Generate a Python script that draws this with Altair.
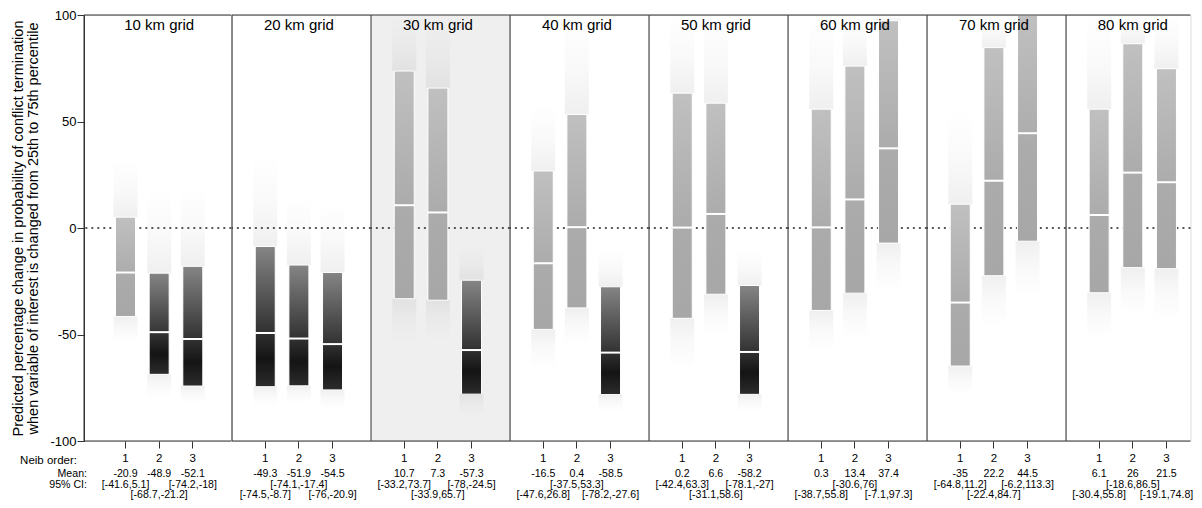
import altair as alt
import pandas as pd

# ---------------- data ----------------
grids = ["10 km grid", "20 km grid", "30 km grid", "40 km grid",
         "50 km grid", "60 km grid", "70 km grid", "80 km grid"]
orders = ["1", "2", "3"]
highlight_grid = "30 km grid"

means = [
    [-20.9, -48.9, -52.1],
    [-49.3, -51.9, -54.5],
    [10.7, 7.3, -57.3],
    [-16.5, 0.4, -58.5],
    [0.2, 6.6, -58.2],
    [0.3, 13.4, 37.4],
    [-35, 22.2, 44.5],
    [6.1, 26, 21.5],
]
ci_low = [
    [-41.6, -68.7, -74.2],
    [-74.5, -74.1, -76],
    [-33.2, -33.9, -78],
    [-47.6, -37.5, -78.2],
    [-42.4, -31.1, -78.1],
    [-38.7, -30.6, -7.1],
    [-64.8, -22.4, -6.2],
    [-30.4, -18.6, -19.1],
]
ci_high = [
    [5.1, -21.2, -18],
    [-8.7, -17.4, -20.9],
    [73.7, 65.7, -24.5],
    [26.8, 53.3, -27.6],
    [63.3, 58.6, -27],
    [55.8, 76, 97.3],
    [11.2, 84.7, 113.3],
    [55.8, 86.5, 74.8],
]
# approximate extent of the faint simulated-draw clouds around each bar
dot_top = [
    [32, 18, 20],
    [35, 15, 12],
    [100, 100, -8],
    [58, 100, -10],
    [100, 100, -10],
    [100, 100, 100],
    [55, 100, 100],
    [100, 100, 100],
]
dot_bot = [
    [-54, -80, -82],
    [-83, -82, -85],
    [-54, -53, -88],
    [-66, -55, -86],
    [-66, -50, -86],
    [-58, -52, -30],
    [-78, -46, -33],
    [-52, -41, -43],
]
row_labels = ["Neib order:", "Mean:", "95% CI:"]
y_title = ["Predicted percentage change in probability of conflict termination",
           "when variable of interest is changed from 25th to 75th percentile"]
y_ticks = [-100, -50, 0, 50, 100]

# ---------------- layout / style ----------------
H = 426
F = 0.9955  # slight horizontal compaction so the page does not overflow
panel_widths = [w * F for w in [148, 139.5, 139.5, 139.5, 139.5, 139.5, 139.5, 125]]
first_center = [c * F for c in [41.7, 33.4, 33.4, 33.4, 33.4, 33.4, 33.4, 33.3]]
STEP = 33.8 * F
BAR = 20
FONT = "Liberation Sans"
SMALL = 10.6
Y_MEAN, Y_CI1, Y_CI2 = H + 32.5, H + 43.5, H + 54


def fmt(v):
    return f"{v:g}"


rows = []
for gi, g in enumerate(grids):
    for oi, o in enumerate(orders):
        lo, hi = ci_low[gi][oi], ci_high[gi][oi]
        line = 1 if ((gi % 2 == 0) == (oi != 1)) else 2
        rows.append(dict(grid=g, order=o, mean=means[gi][oi], lo=lo, hi=hi,
                         top=dot_top[gi][oi], bot=dot_bot[gi][oi], sig=hi < 0,
                         mean_label=fmt(means[gi][oi]),
                         ci_label=f"[{fmt(lo)},{fmt(hi)}]", ci_line=line))
df = pd.DataFrame(rows)

one = pd.DataFrame({"v": [0]})

light_fill = alt.Gradient(gradient="linear", x1=0, x2=0, y1=0, y2=1, stops=[
    alt.GradientStop(color="#c0c0c0", offset=0),
    alt.GradientStop(color="#ababab", offset=0.6),
    alt.GradientStop(color="#a7a7a7", offset=1)])
dark_fill = alt.Gradient(gradient="linear", x1=0, x2=0, y1=0, y2=1, stops=[
    alt.GradientStop(color="#858585", offset=0),
    alt.GradientStop(color="#3a3a3a", offset=0.55),
    alt.GradientStop(color="#141414", offset=0.8),
    alt.GradientStop(color="#2c2c2c", offset=1)])
up_fill = alt.Gradient(gradient="linear", x1=0, x2=0, y1=1, y2=0, stops=[
    alt.GradientStop(color="rgba(150,150,150,0.15)", offset=0),
    alt.GradientStop(color="rgba(150,150,150,0.06)", offset=0.45),
    alt.GradientStop(color="rgba(150,150,150,0)", offset=1)])
down_fill = alt.Gradient(gradient="linear", x1=0, x2=0, y1=0, y2=1, stops=[
    alt.GradientStop(color="rgba(150,150,150,0.15)", offset=0),
    alt.GradientStop(color="rgba(150,150,150,0.06)", offset=0.45),
    alt.GradientStop(color="rgba(150,150,150,0)", offset=1)])


def panel(gi):
    g = grids[gi]
    w = panel_widths[gi]
    d = df[df.grid == g]
    pin = (STEP - BAR) / STEP
    pout = (w / STEP - 3 + pin) / 2
    align = (first_center[gi] - BAR / 2) / (w - STEP * (3 - pin))
    xscale = alt.Scale(domain=orders, paddingInner=pin, paddingOuter=pout, align=align)
    yscale = alt.Scale(domain=[-100, 100], clamp=True, nice=False, zero=False)
    xaxis = alt.Axis(title=None, labelAngle=0, domain=False, ticks=True, tickSize=7,
                     tickColor="#333", labelFontSize=11.5, labelPadding=4,
                     labelColor="black", grid=False)
    if gi == 0:
        yaxis = alt.Axis(title=y_title, values=y_ticks, labelExpr="datum.value + ''",
                         tickSize=7, tickColor="#333",
                         domainColor="#333", labelFontSize=13, labelColor="black",
                         labelPadding=1, titleFontSize=14.5, titleFontWeight="normal",
                         titleLineHeight=15, titleColor="black", titlePadding=9,
                         grid=False)
    else:
        yaxis = None
    X = alt.X("order:N", scale=xscale, axis=xaxis)

    def Y(f):
        return alt.Y(f, type="quantitative", scale=yscale, axis=yaxis)

    base = alt.Chart(d)
    layers = []
    if g == highlight_grid:
        layers.append(alt.Chart(one).mark_rect(color="#efefef").encode(
            x=alt.value(0), x2=alt.value(w), y=alt.value(0), y2=alt.value(H)))
    layers.append(base.mark_bar(width=24, color=up_fill).encode(x=X, y=Y("hi"), y2="top:Q"))
    layers.append(base.mark_bar(width=24, color=down_fill).encode(x=X, y=Y("bot"), y2="lo:Q"))
    layers.append(alt.Chart(one).mark_rule(color="#222", strokeDash=[2, 4], strokeWidth=1.4)
                  .encode(y=Y("v")))
    layers.append(base.transform_filter("!datum.sig").mark_bar(
        color=light_fill, stroke="white", strokeWidth=1).encode(x=X, y=Y("lo"), y2="hi:Q"))
    layers.append(base.transform_filter("datum.sig").mark_bar(
        color=dark_fill, stroke="white", strokeWidth=1).encode(x=X, y=Y("lo"), y2="hi:Q"))
    layers.append(base.mark_tick(color="white", thickness=2, size=BAR, opacity=1).encode(
        x=X, y=Y("mean")))
    # frame
    layers.append(alt.Chart(one).mark_rule(color="#333").encode(
        x=alt.value(0), y=alt.value(0), y2=alt.value(H)))
    layers.append(alt.Chart(one).mark_rule(color="#333").encode(
        x=alt.value(0), x2=alt.value(w), y=alt.value(0)))
    layers.append(alt.Chart(one).mark_rule(color="#333").encode(
        x=alt.value(0), x2=alt.value(w), y=alt.value(H)))
    # panel title
    layers.append(base.transform_filter("datum.order == '2'").mark_text(
        fontSize=15, baseline="middle", color="black").encode(
        x=X, y=alt.value(10), text="grid:N"))
    # mean and CI rows
    layers.append(base.mark_text(fontSize=SMALL, baseline="middle", color="black").encode(
        x=X, y=alt.value(Y_MEAN), text="mean_label:N"))
    layers.append(base.transform_filter("datum.ci_line == 1").mark_text(
        fontSize=SMALL, baseline="middle", color="black").encode(
        x=X, y=alt.value(Y_CI1), text="ci_label:N"))
    layers.append(base.transform_filter("datum.ci_line == 2").mark_text(
        fontSize=SMALL, baseline="middle", color="black").encode(
        x=X, y=alt.value(Y_CI2), text="ci_label:N"))
    if gi == 0:
        layers.append(alt.Chart(one).mark_text(fontSize=11.5, align="right", baseline="middle",
                                               color="black").encode(
            x=alt.value(-7), y=alt.value(H + 20), text=alt.value(row_labels[0])))
        layers.append(alt.Chart(one).mark_text(fontSize=SMALL, align="right", baseline="middle",
                                               color="black").encode(
            x=alt.value(3), y=alt.value(Y_MEAN), text=alt.value(row_labels[1])))
        layers.append(alt.Chart(one).mark_text(fontSize=SMALL, align="right", baseline="middle",
                                               color="black").encode(
            x=alt.value(3), y=alt.value(Y_CI1), text=alt.value(row_labels[2])))
    return alt.layer(*layers).properties(width=w, height=H)


chart = alt.hconcat(*[panel(i) for i in range(len(grids))], spacing=0, bounds="flush").properties(
    padding={"left": 2, "top": 0, "right": 0, "bottom": 0}
).configure_view(stroke=None).configure(font=FONT)

chart.save("out.html", embed_options={"renderer": "svg", "actions": False})
